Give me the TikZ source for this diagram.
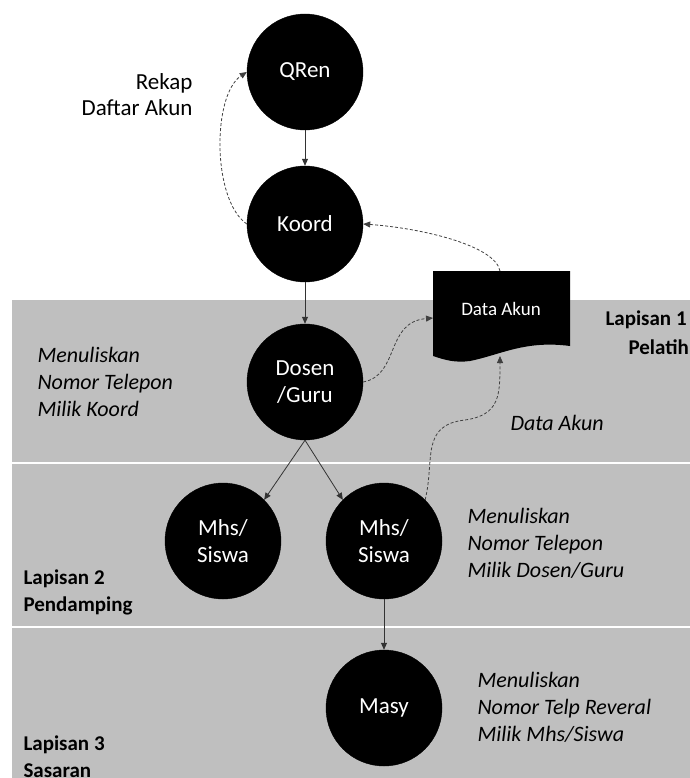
\documentclass[tikz,border=0pt]{standalone}
\usepackage{fontspec}
\setmainfont{Carlito}
\usetikzlibrary{arrows.meta}
\definecolor{bandgray}{HTML}{BFBFBF}
\definecolor{dashgray}{HTML}{404040}
\tikzset{
  actor/.style={circle, fill=black, draw=black, minimum size=116pt, inner sep=0pt,
    text=white, align=center, font=\fontsize{23}{27}\selectfont},
  note/.style={anchor=west, align=left, font=\fontsize{22}{27}\selectfont\itshape},
  layer/.style={anchor=west, align=left, font=\fontsize{21}{27}\selectfont\bfseries},
  flow/.style={-{Triangle[length=7pt,width=6pt]}, line width=0.8pt, draw=black!80},
  info/.style={-{Triangle[length=7pt,width=6pt]}, line width=0.8pt, dashed, dash pattern=on 3pt off 2pt, draw=dashgray},
}
\begin{document}
\begin{tikzpicture}[x=1pt,y=-1pt]
\useasboundingbox (0,0) rectangle (689,778);
% bands
\fill[bandgray] (12,300) rectangle (700,462);
\fill[bandgray] (12,464) rectangle (700,626);
\fill[bandgray] (12,628) rectangle (700,790);

% nodes
\node[actor] (qren) at (305,72) {QRen};
\node[actor] (koord) at (305,224) {Koord};
\node[actor] (dosen) at (305,382) {Dosen\\/Guru};
\node[actor] (mhsl) at (223,541) {Mhs/\\Siswa};
\node[actor] (mhsr) at (384,541) {Mhs/\\Siswa};
\node[actor] (masy) at (384,708) {Masy};

% document shape
\fill[black] (433,271) -- (570,271) -- (570,346)
  .. controls (525,340) and (500,355) .. (470,361)
  .. controls (455,363) and (445,360) .. (433,356) -- cycle;
\node[text=white, font=\fontsize{19}{23}\selectfont] (data) at (501,309) {Data Akun};
\coordinate (datatop) at (500,271);
\coordinate (datawest) at (433,318);
\coordinate (databot) at (500,356);

% solid flows
\draw[flow] (qren.south) -- (koord.north);
\draw[flow] (koord.south) -- (dosen.north);
\draw[flow] (dosen.south) -- (mhsl.north east);
\draw[flow] (dosen.south) -- (mhsr.north west);
\draw[flow] (mhsr.south) -- (masy.north);

% dashed flows
\draw[info] (koord.west) .. controls (212,200) and (212,95) .. (qren.west);
\draw[info] (datatop) .. controls (495,245) and (420,228) .. (koord.east);
\draw[info] (dosen.east) .. controls (400,375) and (385,322) .. (datawest);
\draw[info] (mhsr.north east) .. controls (435,460) and (420,425) .. (465,420)
  .. controls (500,415) and (500,395) .. (databot);

% labels
\node[anchor=east, align=right, font=\fontsize{23}{26}\selectfont] (rekap) at (196,95) {Rekap\\Daftar Akun};
\node[note] (n1) at (34,382) {Menuliskan\\Nomor Telepon\\Milik Koord};
\node[note] (n2) at (507,423) {Data Akun};
\node[note] (n3) at (464,543) {Menuliskan\\Nomor Telepon\\Milik Dosen/Guru};
\node[note] (n4) at (474,707) {Menuliskan\\Nomor Telp Reveral\\Milik Mhs/Siswa};
\node[layer] (l1a) at (602,320) {Lapisan 1};
\node[layer] (l1b) at (625,347) {Pelatih};
\node[layer] (l2) at (20,592) {Lapisan 2\\Pendamping};
\node[layer] (l3) at (20,757) {Lapisan 3\\Sasaran};
\end{tikzpicture}
\end{document}
